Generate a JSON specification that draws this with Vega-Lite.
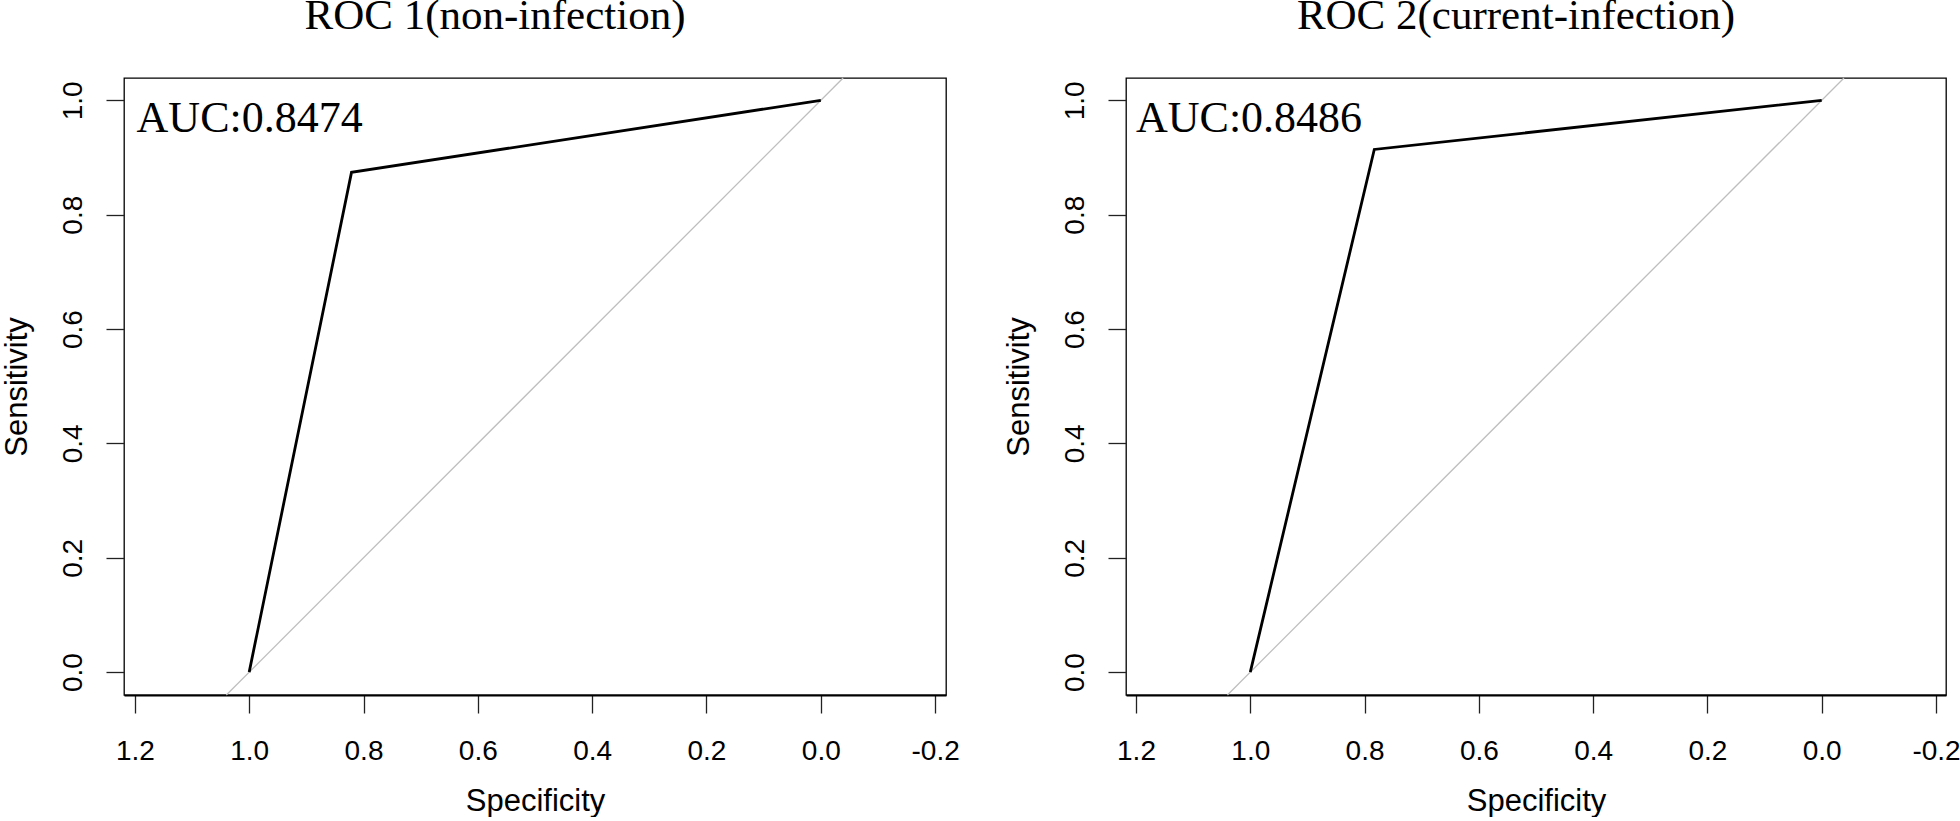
{
  "$schema": "https://vega.github.io/schema/vega-lite/v6.json",
  "background": "white",
  "padding": {"left": 0, "top": -6, "right": 0, "bottom": 0},
  "spacing": 180,
  "bounds": "flush",
  "config": {
    "view": {"stroke": "black", "strokeWidth": 1.3},
    "axis": {
      "labelFont": "Liberation Sans", "labelFontSize": 28, "labelColor": "black",
      "titleFont": "Liberation Sans", "titleFontSize": 31, "titleFontWeight": "normal", "titleColor": "black",
      "tickColor": "#222222", "tickSize": 18, "tickWidth": 1.3,
      "domainColor": "black", "grid": false, "labelFlush": false, "labelOverlap": false
    },
    "title": {"font": "Liberation Serif", "fontSize": 43, "fontWeight": "normal", "color": "black", "offset": 37}
  },
  "datasets": {
    "roc": [
      {"panel": 1, "series": "diag", "spec": 1.04, "sens": -0.04},
      {"panel": 1, "series": "diag", "spec": -0.039, "sens": 1.039},
      {"panel": 1, "series": "curve", "spec": 1.0, "sens": 0.0},
      {"panel": 1, "series": "curve", "spec": 0.821, "sens": 0.874},
      {"panel": 1, "series": "curve", "spec": 0.0, "sens": 1.0},
      {"panel": 2, "series": "diag", "spec": 1.04, "sens": -0.04},
      {"panel": 2, "series": "diag", "spec": -0.039, "sens": 1.039},
      {"panel": 2, "series": "curve", "spec": 1.0, "sens": 0.0},
      {"panel": 2, "series": "curve", "spec": 0.783, "sens": 0.914},
      {"panel": 2, "series": "curve", "spec": 0.0, "sens": 1.0}
    ],
    "labels": [
      {"panel": 1, "label": "AUC:0.8474", "spec": 1.197, "sens": 0.9445},
      {"panel": 2, "label": "AUC:0.8486", "spec": 1.2, "sens": 0.9445}
    ]
  },
  "hconcat": [
    {
      "width": 822, "height": 617,
      "title": {"text": "ROC 1(non-infection)", "dx": -40},
      "encoding": {
        "x": {"field": "spec", "type": "quantitative",
          "scale": {"domain": [-0.219, 1.219], "reverse": true, "nice": false, "zero": false},
          "axis": {"title": "Specificity", "values": [-0.2, 0, 0.2, 0.4, 0.6, 0.8, 1, 1.2],
            "labelExpr": "datum.value < -0.0001 ? '-' + format(-datum.value, '.1f') : format(abs(datum.value), '.1f')",
            "labelPadding": 24, "titlePadding": 21, "domainWidth": 2.2}},
        "y": {"field": "sens", "type": "quantitative",
          "scale": {"domain": [-0.04, 1.039], "nice": false, "zero": false},
          "axis": {"title": "Sensitivity", "values": [0, 0.2, 0.4, 0.6, 0.8, 1], "format": ".1f",
            "labelAngle": 270, "labelAlign": "center", "labelBaseline": "bottom",
            "labelPadding": 19, "titlePadding": 26, "domain": false}}
      },
      "layer": [
        {"data": {"name": "roc"}, "transform": [{"filter": "datum.panel == 1 && datum.series == 'diag'"}],
          "mark": {"type": "line", "color": "#BEBEBE", "strokeWidth": 1.3}},
        {"data": {"name": "roc"}, "transform": [{"filter": "datum.panel == 1 && datum.series == 'curve'"}],
          "mark": {"type": "line", "color": "black", "strokeWidth": 2.8}},
        {"data": {"name": "labels"}, "transform": [{"filter": "datum.panel == 1"}],
          "mark": {"type": "text", "font": "Liberation Serif", "fontSize": 44, "align": "left", "baseline": "alphabetic", "color": "black"},
          "encoding": {"text": {"field": "label"}}}
      ]
    },
    {
      "width": 820, "height": 617,
      "title": {"text": "ROC 2(current-infection)", "dx": -20},
      "encoding": {
        "x": {"field": "spec", "type": "quantitative",
          "scale": {"domain": [-0.2175, 1.2175], "reverse": true, "nice": false, "zero": false},
          "axis": {"title": "Specificity", "values": [-0.2, 0, 0.2, 0.4, 0.6, 0.8, 1, 1.2],
            "labelExpr": "datum.value < -0.0001 ? '-' + format(-datum.value, '.1f') : format(abs(datum.value), '.1f')",
            "labelPadding": 24, "titlePadding": 21, "domainWidth": 2.2}},
        "y": {"field": "sens", "type": "quantitative",
          "scale": {"domain": [-0.04, 1.039], "nice": false, "zero": false},
          "axis": {"title": "Sensitivity", "values": [0, 0.2, 0.4, 0.6, 0.8, 1], "format": ".1f",
            "labelAngle": 270, "labelAlign": "center", "labelBaseline": "bottom",
            "labelPadding": 19, "titlePadding": 26, "domain": false}}
      },
      "layer": [
        {"data": {"name": "roc"}, "transform": [{"filter": "datum.panel == 2 && datum.series == 'diag'"}],
          "mark": {"type": "line", "color": "#BEBEBE", "strokeWidth": 1.3}},
        {"data": {"name": "roc"}, "transform": [{"filter": "datum.panel == 2 && datum.series == 'curve'"}],
          "mark": {"type": "line", "color": "black", "strokeWidth": 2.8}},
        {"data": {"name": "labels"}, "transform": [{"filter": "datum.panel == 2"}],
          "mark": {"type": "text", "font": "Liberation Serif", "fontSize": 44, "align": "left", "baseline": "alphabetic", "color": "black"},
          "encoding": {"text": {"field": "label"}}}
      ]
    }
  ]
}
